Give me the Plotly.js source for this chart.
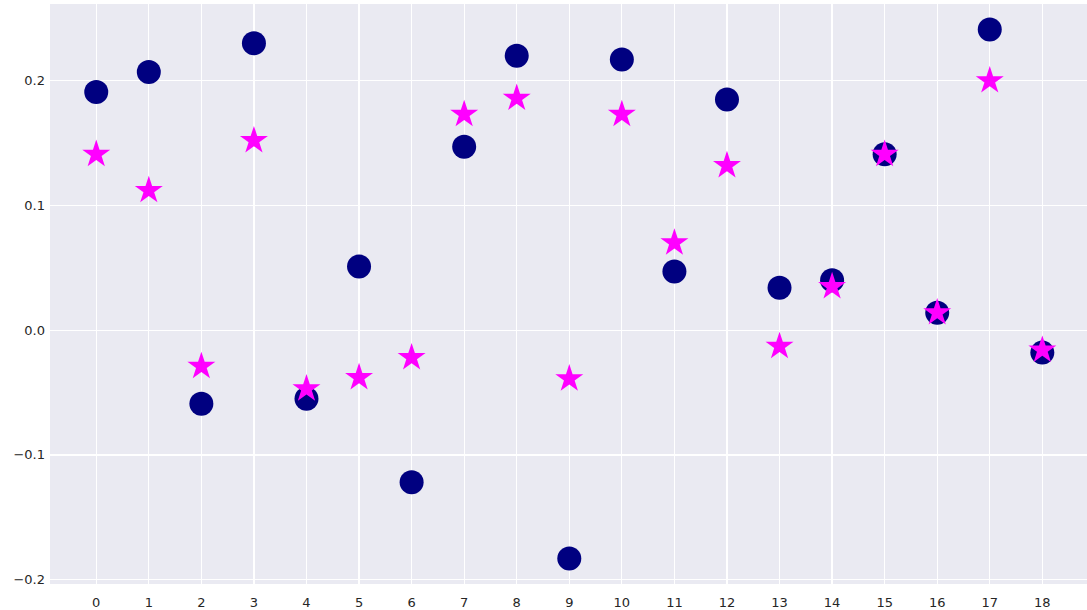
<!DOCTYPE html>
<html>
<head>
<meta charset="utf-8">
<script src="https://cdn.plot.ly/plotly-3.0.1.min.js"></script>
<style>html,body{margin:0;padding:0;background:#fff;}#chart{width:1087px;height:610px;}</style>
</head>
<body>
<div id="chart"></div>
<script>
const xCategories = [0,1,2,3,4,5,6,7,8,9,10,11,12,13,14,15,16,17,18];
const circleValues = [0.191,0.207,-0.059,0.230,-0.055,0.051,-0.122,0.147,0.220,-0.183,0.217,0.047,0.185,0.034,0.040,0.141,0.014,0.241,-0.018];
const starValues = [0.141,0.112,-0.029,0.152,-0.047,-0.038,-0.022,0.173,0.186,-0.039,0.173,0.070,0.132,-0.013,0.035,0.141,0.014,0.200,-0.016];
const yTickVals = [-0.2,-0.1,0.0,0.1,0.2];
const yTickText = ['\u22120.2','\u22120.1','0.0','0.1','0.2'];

const traces = [
  {x: xCategories, y: circleValues, type:'scatter', mode:'markers',
   marker:{symbol:'circle', size:24, color:'#000080', line:{width:0}}, hoverinfo:'x+y'},
  {x: xCategories, y: starValues, type:'scatter', mode:'markers',
   marker:{symbol:'star', size:21, color:'#ff00ff', line:{width:0}}, hoverinfo:'x+y'}
];
const layout = {
  width:1087, height:610,
  margin:{l:50, r:0, t:4, b:26},
  paper_bgcolor:'#ffffff', plot_bgcolor:'#eaeaf2',
  showlegend:false,
  font:{family:'DejaVu Sans', size:13, color:'#262626'},
  xaxis:{range:[-0.88,18.85], tickvals:xCategories, ticktext:xCategories.map(String),
         showgrid:true, gridcolor:'#ffffff', gridwidth:1.2, zeroline:false, showline:false, ticks:'', ticklen:0,
         ticklabelstandoff:9},
  yaxis:{range:[-0.2035,0.2615], tickvals:yTickVals, ticktext:yTickText,
         showgrid:true, gridcolor:'#ffffff', gridwidth:1.2, zeroline:false, showline:false, ticks:'', ticklen:0,
         ticklabelstandoff:4}
};
Plotly.newPlot('chart', traces, layout, {displayModeBar:false, staticPlot:true});
</script>
</body>
</html>
